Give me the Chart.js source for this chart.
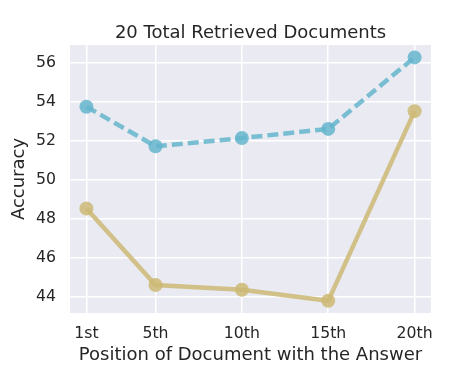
<!DOCTYPE html>
<html>
<head>
<meta charset="utf-8">
<script src="https://cdn.jsdelivr.net/npm/chart.js@4.4.1/dist/chart.umd.min.js"></script>
<style>
  html, body { margin: 0; padding: 0; background: #ffffff; }
  #wrap { width: 461px; height: 374px; position: relative; }
</style>
</head>
<body>
<div id="wrap"><canvas id="c" width="461" height="374"></canvas></div>
<script>
// ---- data ----
const positions = [1, 5, 10, 15, 20];
const positionLabels = ["1st", "5th", "10th", "15th", "20th"];
const seriesBlue = [53.76, 51.73, 52.15, 52.62, 56.29];
const seriesTan = [48.54, 44.61, 44.37, 43.80, 53.53];
const yTicks = [44, 46, 48, 50, 52, 54, 56];
const titleText = "20 Total Retrieved Documents";
const xTitle = "Position of Document with the Answer";
const yTitle = "Accuracy";

const FONT = "'DejaVu Sans', sans-serif";
const TEXT = "#262626";

const bgPlugin = {
  id: 'bg',
  beforeDraw(chart) {
    const {ctx, chartArea: a} = chart;
    ctx.save();
    ctx.fillStyle = '#eaeaf2';
    ctx.fillRect(a.left, a.top, a.right - a.left, a.bottom - a.top);
    ctx.restore();
  },
  afterDraw(chart) {
    const {ctx, chartArea: a} = chart;
    ctx.save();
    ctx.fillStyle = TEXT;
    ctx.font = "18px " + FONT;
    ctx.textAlign = 'center';
    ctx.textBaseline = 'alphabetic';
    ctx.fillText(titleText, (a.left + a.right) / 2, a.top - 7);
    ctx.restore();
  }
};

function toPts(xs, ys) { return xs.map((x, i) => ({x: x, y: ys[i]})); }

new Chart(document.getElementById('c'), {
  type: 'line',
  data: {
    datasets: [
      {
        data: toPts(positions, seriesBlue),
        borderColor: 'rgba(100,181,205,0.85)',
        backgroundColor: 'rgba(100,181,205,0.85)',
        borderWidth: 4.5,
        borderDash: [11, 5],
        pointRadius: 7,
        pointHoverRadius: 7,
        pointBorderWidth: 0,
        tension: 0
      },
      {
        data: toPts(positions, seriesTan),
        borderColor: 'rgba(204,185,116,0.85)',
        backgroundColor: 'rgba(204,185,116,0.85)',
        borderWidth: 4.5,
        pointRadius: 7,
        pointHoverRadius: 7,
        pointBorderWidth: 0,
        tension: 0
      }
    ]
  },
  options: {
    responsive: false,
    animation: false,
    events: [],
    layout: { padding: { left: 0, right: 30, top: 45, bottom: 0 } },
    plugins: {
      legend: { display: false },
      tooltip: { enabled: false },
      title: { display: false }
    },
    scales: {
      x: {
        type: 'linear',
        min: 0.05,
        max: 20.95,
        afterBuildTicks(scale) { scale.ticks = positions.map(v => ({value: v})); },
        afterFit(scale) { scale.height = 61; },
        ticks: {
          color: TEXT,
          font: { family: FONT, size: 15.7 },
          padding: 12,
          maxRotation: 0,
          autoSkip: false,
          callback(v) { const i = positions.indexOf(v); return i >= 0 ? positionLabels[i] : ''; }
        },
        grid: { color: '#ffffff', lineWidth: 1.5, drawTicks: false },
        border: { display: false },
        title: {
          display: true,
          text: xTitle,
          color: TEXT,
          font: { family: FONT, size: 18 },
          padding: { top: 0, bottom: 8 }
        }
      },
      y: {
        min: 43.175,
        max: 56.925,
        afterBuildTicks(scale) { scale.ticks = yTicks.map(v => ({value: v})); },
        afterFit(scale) { scale.width = 70; },
        ticks: {
          color: TEXT,
          font: { family: FONT, size: 15.7 },
          padding: 14,
          autoSkip: false,
          callback(v) { return String(v); }
        },
        grid: { color: '#ffffff', lineWidth: 1.5, drawTicks: false },
        border: { display: false },
        title: {
          display: true,
          text: yTitle,
          color: TEXT,
          font: { family: FONT, size: 18 },
          padding: { top: 9, bottom: 0 }
        }
      }
    }
  },
  plugins: [bgPlugin]
});
</script>
</body>
</html>
